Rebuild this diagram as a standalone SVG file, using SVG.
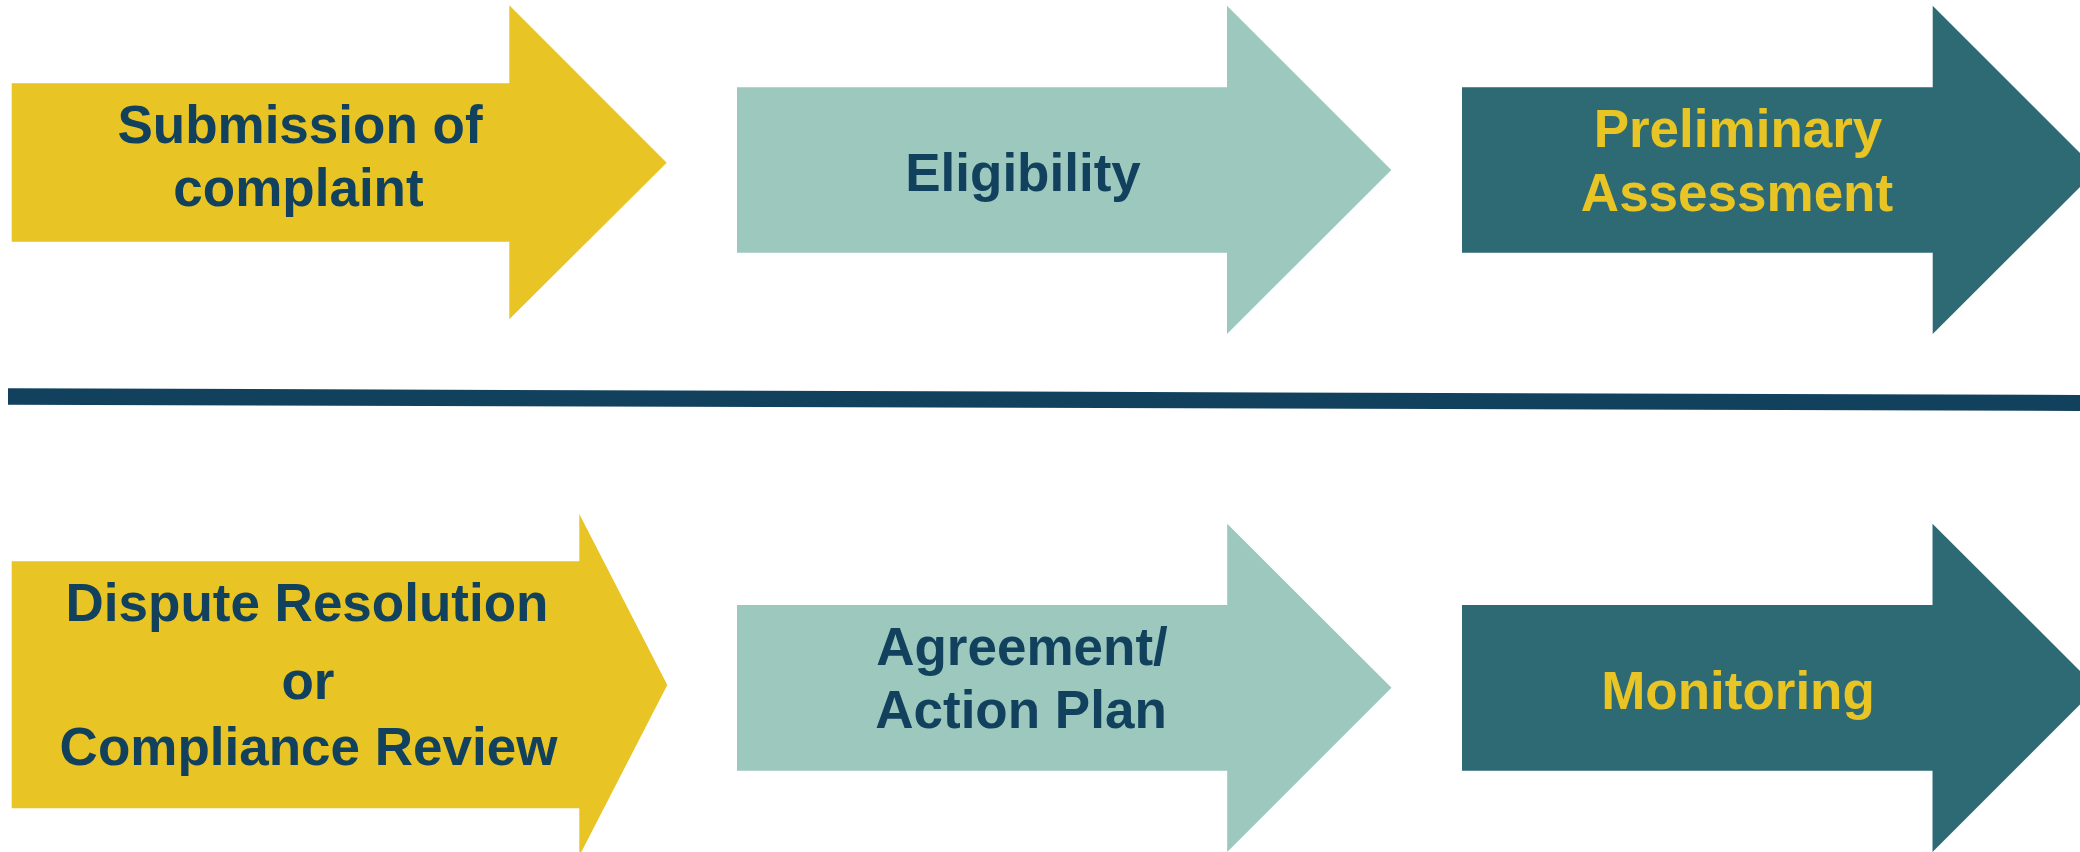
<svg xmlns="http://www.w3.org/2000/svg" width="2080" height="852" viewBox="0 0 2080 852">
<style>
.t{font-family:"Liberation Sans",Arial,sans-serif;font-weight:bold;font-size:53px;text-anchor:middle}
.navy{fill:#12415E}
.gold{fill:#E8C425}
.yel{fill:#E8C425}
.lt{fill:#9CC8BE}
.dk{fill:#2E6A74}
</style>
<rect width="2080" height="852" fill="#FFFFFF"/>
<g id="connectors">
<polygon points="8,388.3 2080,395 2080,411 8,404.8" fill="#12415E"/>
</g>
<g id="n1">
<polygon class="yel" points="11.7,83.3 509.3,83.3 509.3,5.3 666.7,162.7 509.3,319.3 509.3,241.7 11.7,241.7"/>
<text class="t navy" x="300" y="142.7">Submission of</text>
<text class="t navy" x="298.5" y="206">complaint</text>
</g>
<g id="n2">
<polygon class="lt" points="737,87.3 1227,87.3 1227,5.7 1391.3,170 1227,334 1227,252.7 737,252.7"/>
<text class="t navy" x="1023" y="191">Eligibility</text>
</g>
<g id="n3">
<polygon class="dk" points="1462,87.3 1932.7,87.3 1932.7,5.7 2097,170 1932.7,334 1932.7,252.7 1462,252.7"/>
<text class="t gold" x="1738" y="146.7">Preliminary</text>
<text class="t gold" x="1737" y="210.7">Assessment</text>
</g>
<g id="n4">
<polygon class="yel" points="11.7,561.3 579.3,561.3 579.3,514 667.3,685 579.3,856 579.3,808.3 11.7,808.3"/>
<text class="t navy" x="307" y="621">Dispute Resolution</text>
<text class="t navy" x="308" y="699.3">or</text>
<text class="t navy" x="308.5" y="765">Compliance Review</text>
</g>
<g id="n5">
<polygon class="lt" points="737,605 1227.2,605 1227.2,523.7 1391.5,687.7 1227.2,852 1227.2,770.7 737,770.7"/>
<text class="t navy" x="1022" y="665">Agreement/</text>
<text class="t navy" x="1021" y="728.3">Action Plan</text>
</g>
<g id="n6">
<polygon class="dk" points="1462,605 1932.5,605 1932.5,523.7 2096.8,687.7 1932.5,852 1932.5,770.7 1462,770.7"/>
<text class="t gold" x="1738" y="708.7">Monitoring</text>
</g>
</svg>
